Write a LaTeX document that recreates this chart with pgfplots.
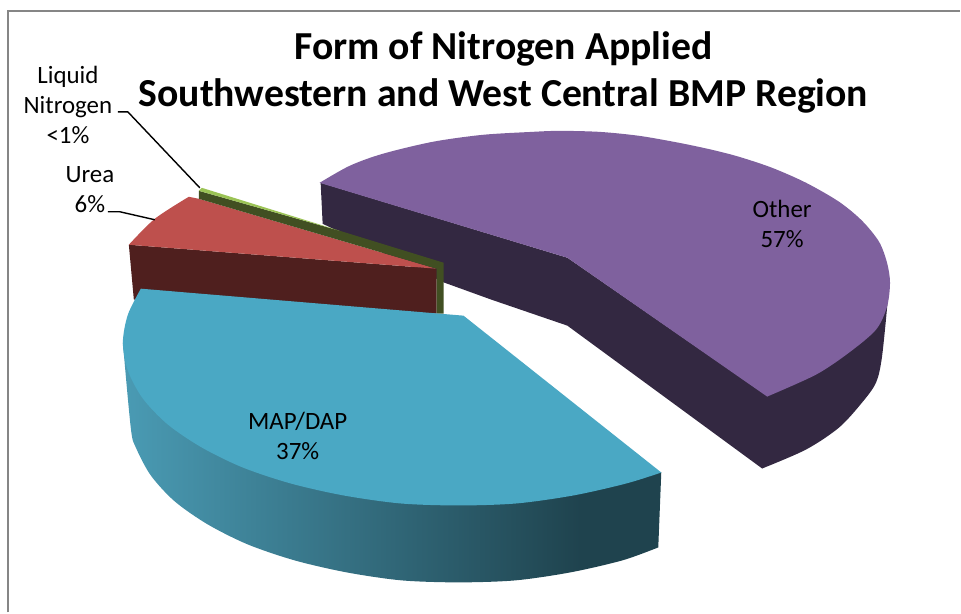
\documentclass[border=0pt]{standalone}
\usepackage{pgfplots}
\pgfplotsset{compat=1.18}
\usepackage{fontspec}
\setmainfont{Carlito}
\definecolor{purp}{RGB}{127,97,158}
\definecolor{dpurp}{RGB}{51,40,65}
\definecolor{rd}{RGB}{190,80,77}
\definecolor{drd}{RGB}{79,31,30}
\definecolor{teal1}{RGB}{74,168,196}
\definecolor{tealL}{RGB}{74,155,180}
\definecolor{tealD}{RGB}{31,67,78}
\definecolor{gd}{RGB}{65,79,34}
\definecolor{gl}{RGB}{155,195,85}
\definecolor{frameg}{RGB}{134,134,134}
\pgfdeclarehorizontalshading{tealside}{100bp}{color(0bp)=(tealL);color(25bp)=(tealL);color(67.5bp)=(tealD);color(100bp)=(tealD)}
\begin{document}
\begin{tikzpicture}
\begin{axis}[
  scale only axis, width=720.75pt, height=459.75pt,
  xmin=0, xmax=961, ymin=0, ymax=613, y dir=reverse,
  hide axis, clip=false,
  every axis plot/.append style={no markers, forget plot},
]
\path (axis cs:0,0) rectangle (axis cs:961,613);
% frame
\addplot[frameg, line width=1.6pt] coordinates {(8,613) (8,11) (961,11)};
% Other side
\addplot[fill=dpurp, draw=none, smooth] coordinates {(889,298) (883,357) (877,383) (863,403) (840,428) (807,450) (763,469)} -- (axis cs:769,390) -- cycle;
\addplot[fill=dpurp, draw=none] coordinates {(321,183) (568,258) (769,397) (800,420) (763,469) (568,326) (492,300) (445,283) (323,224)} -- cycle;
% Other top
\addplot[fill=purp, draw=none, smooth] coordinates {(320,183) (350,166) (383,154) (433,142) (483,135) (533,132) (560,131) (600,132) (640,136) (680,143) (713,150) (740,157) (773,168) (807,183) (840,202) (863,221) (880,242) (888,263) (891,283) (888,307) (877,330) (850,353) (817,375) (768,397)} -- (axis cs:568,258) -- cycle;
% Urea side and top
\addplot[fill=drd, draw=none] coordinates {(129,245) (437,269) (437,314) (134,300)} -- cycle;
\addplot[fill=rd, draw=none, smooth] coordinates {(189,197) (155,219) (129,245)} -- (axis cs:437,269) -- (axis cs:199,199) -- cycle;
% Liquid nitrogen
\addplot[fill=gd, draw=none] coordinates {(199,191) (340,231) (444,263) (444,314) (437,314) (437,269) (199,199)} -- cycle;
\addplot[fill=gl, draw=none] coordinates {(199,191) (202,188) (340,231)} -- cycle;
% MAP/DAP side
\addplot[shading=tealside, draw=none, smooth] coordinates {(123,343) (131,429) (136,448) (151,476) (175,502) (208,525) (248,545) (295,561) (347,573) (402,581) (459,583) (516,581) (571,573) (623,561) (659,548)} -- (axis cs:662,473) -- (axis cs:459,400) -- cycle;
% MAP/DAP top
\addplot[fill=teal1, draw=none, smooth] coordinates {(662,473) (627,484) (574,496) (517,504) (459,506) (401,504) (344,496) (291,484) (243,468) (202,448) (168,425) (143,399) (128,371) (123,343) (128,315) (141,289)} -- (axis cs:464,316) -- cycle;
% leaders
\addplot[black, line width=1.05pt] coordinates {(118,112) (128,112) (200,188)};
\addplot[black, line width=1.05pt] coordinates {(108,212) (120,212) (155,220)};
% texts
\node[font=\fontsize{29.8}{36}\selectfont\bfseries, align=center, anchor=center] at (axis cs:504,72.5) {Form of Nitrogen Applied\\Southwestern and West Central BMP Region};
\node[font=\fontsize{18.7}{22.5}\selectfont, align=center] at (axis cs:68,105) {Liquid\\Nitrogen\\<1\%};
\node[font=\fontsize{18.7}{22.5}\selectfont, align=center] at (axis cs:90,190) {Urea\\6\%};
\node[font=\fontsize{18.7}{22.5}\selectfont, align=center] at (axis cs:298,436) {MAP/DAP\\37\%};
\node[font=\fontsize{18.7}{22.5}\selectfont, align=center] at (axis cs:783,224) {Other\\57\%};
\end{axis}
\end{tikzpicture}
\end{document}
